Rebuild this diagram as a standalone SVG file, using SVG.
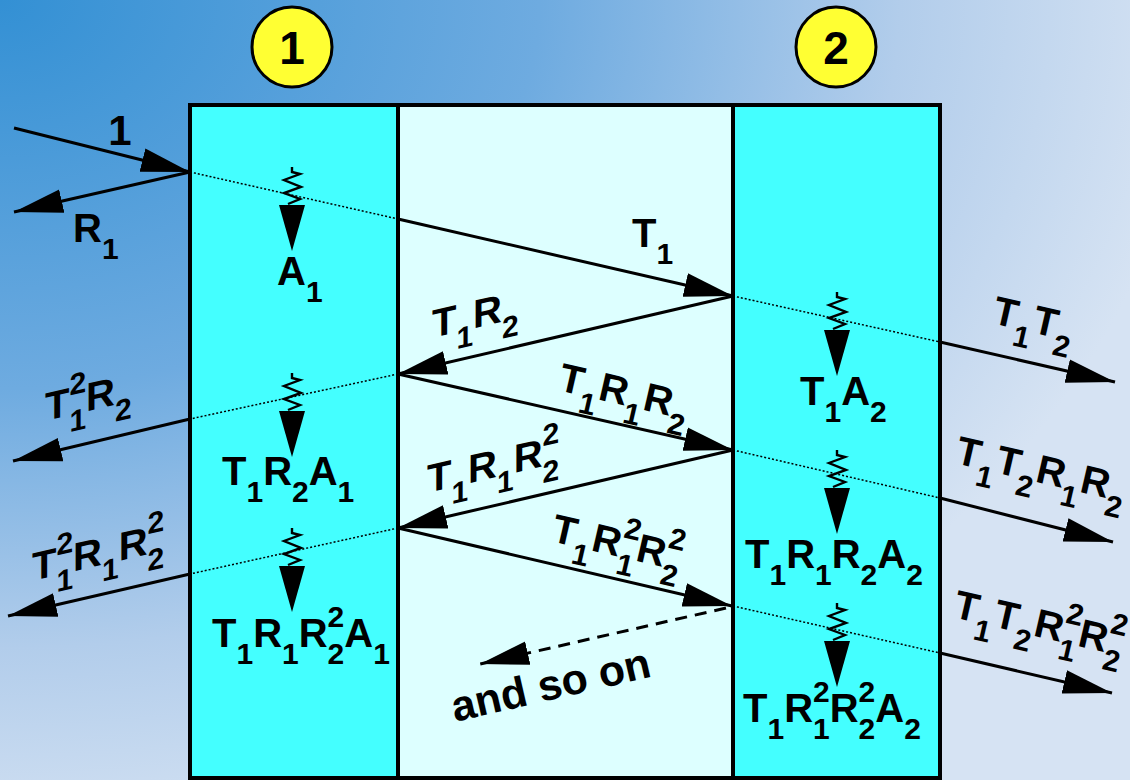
<svg xmlns="http://www.w3.org/2000/svg" xmlns:xlink="http://www.w3.org/1999/xlink" width="1130" height="780" viewBox="0 0 1130 780">
<defs>
<radialGradient id="bg" gradientUnits="userSpaceOnUse" cx="0" cy="0" r="1200" gradientTransform="scale(1,0.72)">
<stop offset="0" stop-color="#3390d4"/>
<stop offset="0.45" stop-color="#6eabe0"/>
<stop offset="0.75" stop-color="#b2cdeb"/>
<stop offset="1" stop-color="#d6e3f3"/>
</radialGradient>
<marker id="ah" markerUnits="userSpaceOnUse" markerWidth="50" markerHeight="26" viewBox="0 0 50 26" refX="49" refY="13" orient="auto">
<path d="M0,1 L49,13 L0,25 Z" fill="#000"/>
</marker>
<g id="absorb">
<path d="M0,0 L0,5 L8,7 L-8,13 L9,20 L-8,26 L8,32 L-4,37" fill="none" stroke="#000" stroke-width="2.4"/>
<path d="M-13,38 L13,38 L0,84 Z" fill="#000"/>
</g>
</defs>
<style>
.lb{font-family:"Liberation Sans",Arial,Helvetica,sans-serif;font-weight:bold;font-size:40px;fill:#000}
.s{font-size:30px}
.ray{stroke:#000;stroke-width:3;fill:none;marker-end:url(#ah)}
.dot{stroke:#000;stroke-width:1.5;fill:none;stroke-dasharray:2 2}
.dash{stroke:#000;stroke-width:3;fill:none;stroke-dasharray:12 8;marker-end:url(#ah)}
.lay{stroke:#000;stroke-width:4}
.circ{fill:#ffff33;stroke:#000;stroke-width:3}
</style>
<rect x="0" y="0" width="1130" height="780" fill="url(#bg)"/>

<g id="middle"><rect class="lay" x="398" y="105" width="335" height="673" fill="#ddffff"/></g>
<g id="layer1"><rect class="lay" x="190" y="105" width="208" height="673" fill="#44ffff"/></g>
<g id="layer2"><rect class="lay" x="733" y="105" width="207" height="673" fill="#44ffff"/></g>

<g id="label1"><circle class="circ" cx="292" cy="47" r="40"/><text class="lb" style="font-size:46px" x="292" y="64" text-anchor="middle">1</text></g>
<g id="label2"><circle class="circ" cx="836" cy="47" r="40"/><text class="lb" style="font-size:46px" x="836" y="64" text-anchor="middle">2</text></g>

<g id="connectors">
<line class="ray" x1="14" y1="128" x2="190" y2="172"/>
<line class="ray" x1="190" y1="172" x2="14" y2="212"/>
<line class="dot" x1="190" y1="172" x2="398" y2="219"/>
<line class="ray" x1="398" y1="219" x2="733" y2="296"/>
<line class="dot" x1="733" y1="296" x2="940" y2="342"/>
<line class="ray" x1="940" y1="342" x2="1115" y2="382"/>
<line class="ray" x1="733" y1="296" x2="398" y2="374"/>
<line class="dot" x1="398" y1="374" x2="190" y2="419"/>
<line class="ray" x1="190" y1="419" x2="13" y2="461"/>
<line class="ray" x1="398" y1="374" x2="733" y2="450"/>
<line class="dot" x1="733" y1="450" x2="940" y2="498"/>
<line class="ray" x1="940" y1="498" x2="1113" y2="542"/>
<line class="ray" x1="733" y1="450" x2="398" y2="528"/>
<line class="dot" x1="398" y1="528" x2="190" y2="574"/>
<line class="ray" x1="190" y1="574" x2="8" y2="616"/>
<line class="ray" x1="398" y1="528" x2="732" y2="606"/>
<line class="dot" x1="733" y1="606" x2="940" y2="653"/>
<line class="ray" x1="940" y1="653" x2="1112" y2="693"/>
<line class="dash" x1="726" y1="608" x2="480" y2="664"/>
<use xlink:href="#absorb" x="292" y="167"/>
<use xlink:href="#absorb" x="292" y="373"/>
<use xlink:href="#absorb" x="292" y="528"/>
<use xlink:href="#absorb" x="837" y="292"/>
<use xlink:href="#absorb" x="837" y="450"/>
<use xlink:href="#absorb" x="837" y="603"/>
</g>

<g id="ray-labels">
<text class="lb" style="font-size:42px" x="120" y="145" text-anchor="middle">1</text>
<text class="lb" x="73" y="242">R<tspan class="s" dy="17">1</tspan></text>
<text class="lb" x="632" y="247">T<tspan class="s" dy="17">1</tspan></text>
<text class="lb" transform="translate(432,338) skewY(-13)">T<tspan class="s" dy="17">1</tspan><tspan dy="-17">R</tspan><tspan class="s" dy="17">2</tspan></text>
<text class="lb" transform="translate(557,390) rotate(13)">T<tspan class="s" dy="17">1</tspan><tspan dy="-17">R</tspan><tspan class="s" dy="17">1</tspan><tspan dy="-17">R</tspan><tspan class="s" dy="17">2</tspan></text>
<text class="lb" transform="translate(427,493) skewY(-13)">T<tspan class="s" dy="17">1</tspan><tspan dy="-17">R</tspan><tspan class="s" dy="17">1</tspan><tspan dy="-17">R</tspan><tspan class="s" dy="17">2</tspan><tspan class="s" dx="-16.68" dy="-37">2</tspan></text>
<text class="lb" transform="translate(550,541) rotate(13)">T<tspan class="s" dy="17">1</tspan><tspan dy="-17">R</tspan><tspan class="s" dy="17">1</tspan><tspan class="s" dx="-16.68" dy="-37">2</tspan><tspan dy="20">R</tspan><tspan class="s" dy="17">2</tspan><tspan class="s" dx="-16.68" dy="-37">2</tspan></text>
<text class="lb" transform="translate(991,323) rotate(13)">T<tspan class="s" dy="17">1</tspan><tspan dy="-17">T</tspan><tspan class="s" dy="17">2</tspan></text>
<text class="lb" transform="translate(954,463) rotate(13)">T<tspan class="s" dy="17">1</tspan><tspan dy="-17">T</tspan><tspan class="s" dy="17">2</tspan><tspan dy="-17">R</tspan><tspan class="s" dy="17">1</tspan><tspan dy="-17">R</tspan><tspan class="s" dy="17">2</tspan></text>
<text class="lb" transform="translate(952,617) rotate(13)">T<tspan class="s" dy="17">1</tspan><tspan dy="-17">T</tspan><tspan class="s" dy="17">2</tspan><tspan dy="-17">R</tspan><tspan class="s" dy="17">1</tspan><tspan class="s" dx="-16.68" dy="-37">2</tspan><tspan dy="20">R</tspan><tspan class="s" dy="17">2</tspan><tspan class="s" dx="-16.68" dy="-37">2</tspan></text>
<text class="lb" transform="translate(45,421) skewY(-13)">T<tspan class="s" dy="17">1</tspan><tspan class="s" dx="-16.68" dy="-37">2</tspan><tspan dy="20">R</tspan><tspan class="s" dy="17">2</tspan></text>
<text class="lb" transform="translate(32,581) skewY(-13)">T<tspan class="s" dy="17">1</tspan><tspan class="s" dx="-16.68" dy="-37">2</tspan><tspan dy="20">R</tspan><tspan class="s" dy="17">1</tspan><tspan dy="-17">R</tspan><tspan class="s" dy="17">2</tspan><tspan class="s" dx="-16.68" dy="-37">2</tspan></text>
<text class="lb" style="font-size:43px" transform="translate(455,722) rotate(-13)">and so on</text>
</g>

<g id="absorbed-labels">
<text class="lb" x="277" y="285">A<tspan class="s" dy="17">1</tspan></text>
<text class="lb" x="222" y="485">T<tspan class="s" dy="17">1</tspan><tspan dy="-17">R</tspan><tspan class="s" dy="17">2</tspan><tspan dy="-17">A</tspan><tspan class="s" dy="17">1</tspan></text>
<text class="lb" x="212" y="647">T<tspan class="s" dy="17">1</tspan><tspan dy="-17">R</tspan><tspan class="s" dy="17">1</tspan><tspan dy="-17">R</tspan><tspan class="s" dy="17">2</tspan><tspan class="s" dx="-16.68" dy="-37">2</tspan><tspan dy="20">A</tspan><tspan class="s" dy="17">1</tspan></text>
<text class="lb" x="800" y="405">T<tspan class="s" dy="17">1</tspan><tspan dy="-17">A</tspan><tspan class="s" dy="17">2</tspan></text>
<text class="lb" x="745" y="568">T<tspan class="s" dy="17">1</tspan><tspan dy="-17">R</tspan><tspan class="s" dy="17">1</tspan><tspan dy="-17">R</tspan><tspan class="s" dy="17">2</tspan><tspan dy="-17">A</tspan><tspan class="s" dy="17">2</tspan></text>
<text class="lb" x="743" y="722">T<tspan class="s" dy="17">1</tspan><tspan dy="-17">R</tspan><tspan class="s" dy="17">1</tspan><tspan class="s" dx="-16.68" dy="-37">2</tspan><tspan dy="20">R</tspan><tspan class="s" dy="17">2</tspan><tspan class="s" dx="-16.68" dy="-37">2</tspan><tspan dy="20">A</tspan><tspan class="s" dy="17">2</tspan></text>
</g>
</svg>
